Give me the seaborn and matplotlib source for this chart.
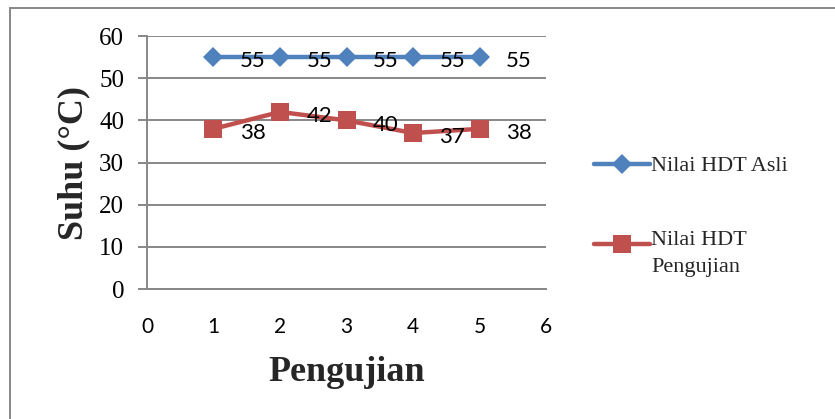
import matplotlib.pyplot as plt
import matplotlib.patches as mpatches
from matplotlib.legend_handler import HandlerLine2D
import pandas as pd
import seaborn as sns

pengujian = [1, 2, 3, 4, 5]
hdt_asli = [55, 55, 55, 55, 55]
hdt_uji = [38, 42, 40, 37, 38]
series_names = ["Nilai HDT Asli", "Nilai HDT\nPengujian"]
x_ticks = [0, 1, 2, 3, 4, 5, 6]
y_ticks = [0, 10, 20, 30, 40, 50, 60]

df = pd.DataFrame({
    "Pengujian": pengujian * 2,
    "Suhu": hdt_asli + hdt_uji,
    "Seri": [series_names[0]] * len(pengujian) + [series_names[1]] * len(pengujian),
})

sns.set_theme(style="white")
plt.rcParams['font.family'] = ['Liberation Serif', 'DejaVu Serif']


class RaisedHandler(HandlerLine2D):
    # legend handle lined up with the first line of a two-line label
    def __init__(self, dy, **kw):
        super().__init__(**kw)
        self.dy = dy

    def create_artists(self, legend, orig_handle, xdescent, ydescent, width,
                       height, fontsize, trans):
        return super().create_artists(legend, orig_handle, xdescent,
                                       ydescent - self.dy, width, height,
                                       fontsize, trans)


fig = plt.figure(figsize=(8.35, 4.19), dpi=100)
ax = fig.add_axes([0.176, 0.310, 0.478, 0.604])

blue = "#4F81BD"
red = "#C0504D"
grey = "#878787"
sans = ["Lato", "DejaVu Sans"]

sns.lineplot(data=df, x="Pengujian", y="Suhu", hue="Seri", style="Seri",
             palette={series_names[0]: blue, series_names[1]: red},
             markers={series_names[0]: "D", series_names[1]: "s"},
             dashes=False, linewidth=3.2, markeredgewidth=0,
             ax=ax, legend=False)
for line, ms in zip(ax.lines, [10, 12.5]):
    line.set_markersize(ms)

# data labels to the right of each point
for vals in (hdt_asli, hdt_uji):
    for x, y in zip(pengujian, vals):
        ax.annotate(str(y), (x, y), xytext=(19, -3), textcoords="offset points",
                    ha="left", va="center", fontsize=16, family=sans,
                    color="black")

ax.set_xlim(0, 6)
ax.set_ylim(0, 60)
ax.set_xticks(x_ticks)
ax.set_yticks(y_ticks)
ax.yaxis.grid(True, color=grey, linewidth=1.4)
ax.set_axisbelow(True)
for side in ["top", "right"]:
    ax.spines[side].set_visible(False)
for side in ["left", "bottom"]:
    ax.spines[side].set_color(grey)
    ax.spines[side].set_linewidth(1.4)

ax.tick_params(axis="y", left=True, length=6.5, width=1.4, color=grey, pad=10,
               labelsize=18, labelcolor="black")
ax.tick_params(axis="x", bottom=False, length=0, pad=20, labelsize=15,
               labelcolor="black")
for lab in ax.get_xticklabels():
    lab.set_family(sans)

ax.set_xlabel("Pengujian", fontsize=26, fontweight="bold", labelpad=14)
ax.set_ylabel("Suhu (°C)", fontsize=26, fontweight="bold", labelpad=6)

handles = [
    plt.Line2D([], [], color=blue, linewidth=3.2, marker="D", markersize=10,
               markeredgewidth=0),
    plt.Line2D([], [], color=red, linewidth=3.2, marker="s", markersize=12.5,
               markeredgewidth=0),
]
leg = fig.legend(handles, series_names, loc="center left",
                 bbox_to_anchor=(0.688, 0.484), frameon=False, fontsize=16,
                 handlelength=2.5, handletextpad=0.05, labelspacing=2.45,
                 handler_map={handles[1]: RaisedHandler(13.5)})
for t in leg.get_texts():
    t.set_linespacing(1.55)

# outer chart border
fig.patches.append(mpatches.Rectangle((10 / 835, -0.05), 1.1, 1 - 8 / 419 + 0.05,
                                      transform=fig.transFigure, fill=False,
                                      edgecolor=grey, linewidth=1.4))

fig.savefig("out.png", dpi=100)
